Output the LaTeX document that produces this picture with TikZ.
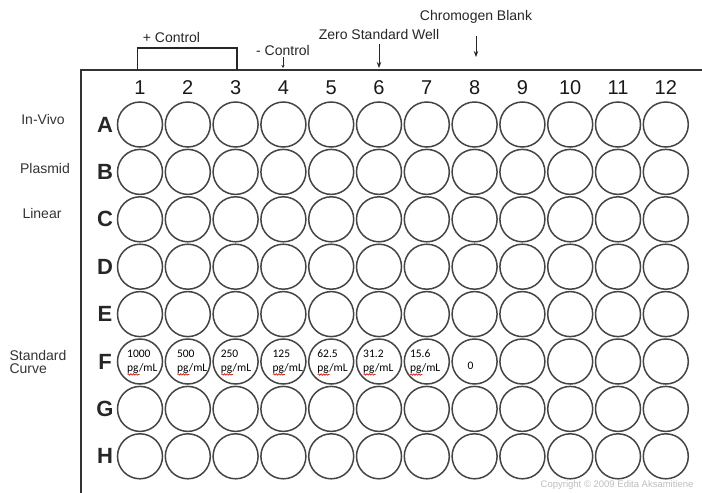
\documentclass[tikz,border=0pt]{standalone}
\usepackage{fontspec}
\setmainfont{Liberation Sans}
\newfontfamily\calibrifont{Carlito}
\usetikzlibrary{decorations.pathmorphing, arrows.meta}
\definecolor{plategray}{HTML}{333333}
\definecolor{wellgray}{HTML}{444444}
\definecolor{spellred}{HTML}{D42A1E}
\definecolor{copygray}{HTML}{BDBDBD}

\begin{document}
\begin{tikzpicture}[
    x=1pt, y=-1pt,
    >={Stealth[length=6pt, width=4.5pt]},
    well/.style={
      circle, draw=wellgray, line width=1.5pt,
      minimum size=45pt, inner sep=0pt,
    },
    colnum/.style={font=\fontsize{20}{22}\selectfont, text=black!90},
    rowlet/.style={font=\fontsize{22}{24}\selectfont\bfseries, text=black!85},
    sidelab/.style={font=\fontsize{14}{15.5}\selectfont, text=black!80, align=left},
    toplab/.style={font=\fontsize{14}{15.5}\selectfont, text=black!85, inner sep=1pt},
    conc/.style={
      font=\calibrifont\fontsize{11.5}{14}\selectfont,
      align=left, anchor=west, inner sep=0pt,
    },
    arr/.style={->, draw=black!85, line width=0.9pt},
    plateline/.style={draw=plategray, line width=1.8pt},
    wavy/.style={
      draw=spellred, line width=0.8pt, decorate,
      decoration={snake, amplitude=0.7pt, segment length=2.6pt},
    },
  ]
  \useasboundingbox (0,0) rectangle (702,493);

  % ---- Plate frame ----
  \coordinate (plate-sw) at (81,493);
  \coordinate (plate-ne) at (702,70);
  \draw[plateline] (plate-sw) |- (plate-ne);

  % ---- Wells, column numbers, row letters ----
  \foreach \c in {1,...,12}
    \node[colnum] (col-\c) at ({140+47.8*(\c-1)}, 88) {\c};
  \foreach \r [count=\i] in {A,B,C,D,E,F,G,H} {
    \node[rowlet] (row-\r) at (105, {124.5+47.4*(\i-1)}) {\r};
    \foreach \c in {1,...,12}
      \node[well] (w-\r-\c) at ({140+47.8*(\c-1)}, {124.5+47.4*(\i-1)}) {};
  }

  % ---- Sample labels (left side) ----
  \node[sidelab] (invivo)  at (43, 119)  {In-Vivo};
  \node[sidelab] (plasmid) at (45, 168)  {Plasmid};
  \node[sidelab] (linear)  at (42, 213)  {Linear};
  \node[sidelab, anchor=west] (stdcurve) at (6, 362) {Standard\\[-2pt]Curve};

  % ---- Standard curve concentrations (row F) ----
  \foreach \c/\v/\dx in {1/1000/-13, 2/500/-11, 3/250/-15, 4/125/-11,
                         5/62.5/-14, 6/31.2/-16, 7/15.6/-17} {
    \node[conc] (conc-\c) at ([xshift=\dx pt]w-F-\c.center) {\v\\pg/mL};
    \draw[wavy] ([shift={(0.5,1)}]conc-\c.south west) -- ++(12,0);
  }
  \node[conc, anchor=center] (conc-8) at ([shift={(-4,4)}]w-F-8.center) {0};

  % ---- Controls and blanks (top) ----
  \node[toplab] (posctrl) at (171.5, 37) {+ Control};
  \coordinate (brk-l) at (137.5, 70);
  \coordinate (brk-r) at (237, 70);
  \draw[draw=black!85, line width=1.1pt] (brk-l) -- ++(0,-22) -| (brk-r);

  \node[toplab, anchor=south] (negctrl) at (283, 57) {- Control};
  \coordinate (neg-tip) at (283, 68);
  \draw[arr, line width=0.6pt, -{Stealth[length=3pt, width=3pt]}] (negctrl.south) -- (neg-tip);

  \node[toplab, anchor=south] (zerostd) at (379, 41) {Zero Standard Well};
  \coordinate (zero-tip) at (379, 68);
  \draw[arr, shorten <=3pt] (zerostd.south) -- (zero-tip);

  \node[toplab, anchor=south] (chromo) at (476, 25) {Chromogen Blank};
  \coordinate (chromo-tip) at (476, 57);
  \draw[arr, shorten <=11pt] (chromo.south) -- (chromo-tip);

  % ---- Copyright ----
  \node[font=\fontsize{9.5}{11}\selectfont, text=copygray, anchor=east] (copyr)
    at (697, 485) {Copyright \textcopyright{} 2009 Edita Aksamitiene};

\end{tikzpicture}
\end{document}
